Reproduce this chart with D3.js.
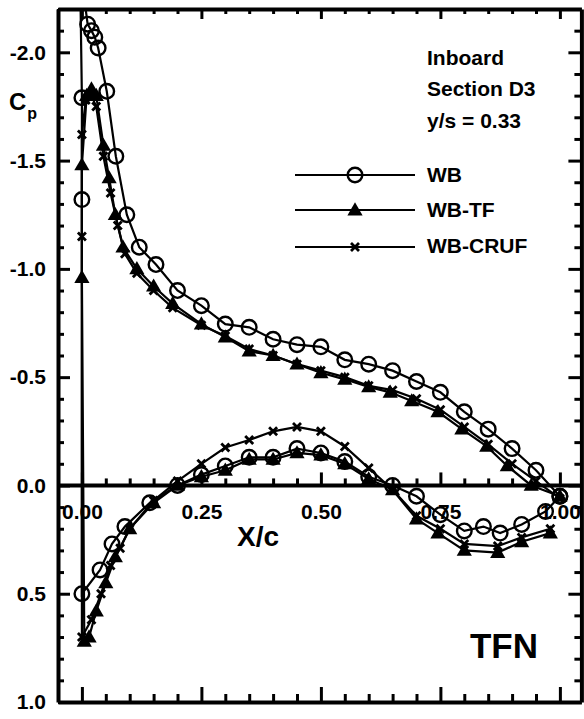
<!DOCTYPE html>
<html><head><meta charset="utf-8">
<script src="https://cdn.jsdelivr.net/npm/d3@7"></script>
<style>
body{margin:0;background:#fff;}
svg{display:block;}
text{font-family:"Liberation Sans",Arial,sans-serif;font-weight:bold;fill:#000;}
</style></head><body>
<svg id="c" width="584" height="719"></svg>
<script>
// ---- data (path order: upper TE -> LE, down the leading edge, lower LE -> TE) ----
const wbX  = [1.0,0.95,0.90,0.85,0.80,0.75,0.70,0.65,0.60,0.55,0.50,0.45,0.40,0.35,0.30,0.25,0.20,0.155,0.12,0.094,0.071,0.052,0.034,0.027,0.02,0.012,-0.004,0.0,0.0,0.0,0.038,0.063,0.09,0.142,0.20,0.25,0.30,0.35,0.40,0.45,0.50,0.55,0.60,0.65,0.70,0.75,0.80,0.84,0.875,0.92,0.97,1.0];
const wbCp = [0.05,-0.07,-0.17,-0.26,-0.34,-0.43,-0.48,-0.53,-0.56,-0.58,-0.64,-0.65,-0.675,-0.73,-0.745,-0.83,-0.90,-1.02,-1.10,-1.25,-1.52,-1.82,-2.02,-2.07,-2.10,-2.13,-2.40,-1.79,-1.32,0.50,0.39,0.27,0.19,0.08,0.0,-0.05,-0.09,-0.13,-0.13,-0.17,-0.15,-0.11,-0.04,0.0,0.05,0.135,0.21,0.19,0.22,0.18,0.12,0.05];

const tfX  = [1.0,0.94,0.89,0.847,0.795,0.745,0.69,0.645,0.60,0.55,0.50,0.45,0.40,0.35,0.30,0.25,0.19,0.15,0.115,0.086,0.07,0.057,0.045,0.03,0.02,0.01,0.0,0.0,0.005,0.015,0.03,0.05,0.07,0.10,0.15,0.20,0.25,0.30,0.35,0.40,0.45,0.50,0.55,0.60,0.65,0.70,0.745,0.80,0.87,0.92,0.98];
const tfCp = [0.05,0.0,-0.09,-0.18,-0.26,-0.34,-0.39,-0.43,-0.455,-0.49,-0.52,-0.56,-0.60,-0.62,-0.685,-0.745,-0.84,-0.92,-1.0,-1.1,-1.25,-1.42,-1.57,-1.80,-1.83,-1.80,-1.48,-0.96,0.72,0.70,0.58,0.45,0.33,0.20,0.08,0.0,-0.04,-0.07,-0.12,-0.12,-0.15,-0.14,-0.10,-0.03,0.02,0.155,0.22,0.30,0.31,0.26,0.22];

const crX  = [1.0,0.95,0.90,0.85,0.80,0.75,0.70,0.65,0.60,0.55,0.50,0.45,0.40,0.35,0.30,0.25,0.19,0.15,0.115,0.09,0.075,0.06,0.045,0.03,0.02,0.008,0.0,0.0,0.0,0.02,0.04,0.06,0.08,0.10,0.15,0.20,0.25,0.30,0.35,0.40,0.45,0.50,0.55,0.60,0.65,0.70,0.75,0.80,0.87,0.92,0.98];
const crCp = [0.06,-0.02,-0.10,-0.19,-0.27,-0.35,-0.40,-0.44,-0.46,-0.50,-0.53,-0.56,-0.60,-0.63,-0.69,-0.74,-0.82,-0.90,-0.98,-1.07,-1.20,-1.35,-1.52,-1.75,-1.80,-1.78,-1.62,-1.15,0.70,0.62,0.50,0.37,0.29,0.20,0.07,-0.02,-0.10,-0.175,-0.21,-0.25,-0.27,-0.25,-0.18,-0.08,0.02,0.14,0.20,0.27,0.28,0.24,0.20];

const seriesNames = ["WB","WB-TF","WB-CRUF"];
const xTickLabels = ["0.00","0.25","0.50","0.75","1.00"];
const yTickLabels = ["-2.0","-1.5","-1.0","-0.5","0.0","0.5","1.0"];
const infoLines = ["Inboard","Section D3","y/s = 0.33"];

// ---- layout ----
const svg = d3.select("#c");
const L = 58, R = 581.4, T = 9, B = 702;
const x = d3.scaleLinear().domain([-0.05, 1.045]).range([L, R]);
const y = d3.scaleLinear().domain([-2.2, 1.0]).range([T, B]);

const xMaj = d3.range(0, 5).map(i => i * 0.25);
const xMin = d3.range(-1, 21).map(i => i * 0.05).filter(v => Math.abs(v/0.25 - Math.round(v/0.25)) > 1e-6);
const yMaj = d3.range(0, 7).map(i => -2.0 + i * 0.5);
const yMin = d3.range(-22, 11).map(i => i / 10).filter(v => Math.abs(v/0.5 - Math.round(v/0.5)) > 1e-6);

function styleAxis(g, w) {
  g.select(".domain").attr("stroke", "#000").attr("stroke-width", w);
  g.selectAll(".tick line").attr("stroke", "#000").attr("stroke-width", 3);
}

// minor ticks first
const minorAxes = [
  [d3.axisLeft(y).tickValues(yMin).tickSizeInner(-6).tickSizeOuter(0).tickFormat(""), `translate(${L},0)`],
  [d3.axisRight(y).tickValues(yMin).tickSizeInner(-7).tickSizeOuter(0).tickFormat(""), `translate(${R},0)`],
  [d3.axisTop(x).tickValues(xMin).tickSizeInner(-5).tickSizeOuter(0).tickFormat(""), `translate(0,${T})`],
  [d3.axisBottom(x).tickValues(xMin).tickSizeInner(-8).tickSizeOuter(0).tickFormat(""), `translate(0,${B})`],
  [d3.axisBottom(x).tickValues(xMin.filter(v => v > 0 && v < 1.02)).tickSizeInner(-7).tickSizeOuter(0).tickFormat(""), `translate(0,${y(0)})`]
];
minorAxes.forEach(([ax, tr]) => {
  const g = svg.append("g").attr("transform", tr).call(ax);
  g.select(".domain").remove();
  g.selectAll(".tick line").attr("stroke", "#000").attr("stroke-width", 3);
});

// left axis with labels
const gl = svg.append("g").attr("transform", `translate(${L},0)`)
  .call(d3.axisLeft(y).tickValues(yMaj).tickSizeInner(-12).tickSizeOuter(0).tickPadding(12)
    .tickFormat((d, i) => yTickLabels[i]));
styleAxis(gl, 4);
gl.selectAll("text").attr("font-size", 21).attr("font-family", "Liberation Sans").attr("font-weight", "bold").attr("fill", "#000");

const gr = svg.append("g").attr("transform", `translate(${R},0)`)
  .call(d3.axisRight(y).tickValues(yMaj).tickSizeInner(-13).tickSizeOuter(0).tickFormat(""));
styleAxis(gr, 4);
const gt = svg.append("g").attr("transform", `translate(0,${T})`)
  .call(d3.axisTop(x).tickValues(xMaj).tickSizeInner(-10).tickSizeOuter(0).tickFormat(""));
styleAxis(gt, 4);
const gb = svg.append("g").attr("transform", `translate(0,${B})`)
  .call(d3.axisBottom(x).tickValues(xMaj).tickSizeInner(-15).tickSizeOuter(0).tickFormat(""));
styleAxis(gb, 4);

// zero line axis with labels
const gz = svg.append("g").attr("transform", `translate(0,${y(0)})`)
  .call(d3.axisBottom(x).tickValues(xMaj).tickSizeInner(-13).tickSizeOuter(0).tickPadding(19)
    .tickFormat((d, i) => xTickLabels[i]));
styleAxis(gz, 4);
gz.select(".domain").attr("d", `M${L},0H${R}`);
gz.selectAll("text").attr("font-size", 21).attr("font-family", "Liberation Sans").attr("font-weight", "bold").attr("fill", "#000");

// axis titles
svg.append("text").attr("x", 258).attr("y", 546).attr("text-anchor", "middle").attr("font-size", 28).text("X/c");
const cp = svg.append("text").attr("x", 9).attr("y", 110).attr("font-size", 24);
cp.append("tspan").text("C");
cp.append("tspan").attr("font-size", 16).attr("dy", 9).attr("dx", 1).text("p");

// annotations
const infoY = [65, 96, 128];
infoLines.forEach((t, i) => svg.append("text").attr("x", 427).attr("y", infoY[i]).attr("font-size", 21).text(t));
svg.append("text").attr("x", 538).attr("y", 658).attr("text-anchor", "end").attr("font-size", 35).text("TFN");

// ---- data ----
svg.append("clipPath").attr("id", "clip").append("rect")
  .attr("x", L).attr("y", T).attr("width", R - L).attr("height", B - T);
const plot = svg.append("g").attr("clip-path", "url(#clip)");
const line = d3.line().x(d => x(d[0])).y(d => y(d[1]));

const triSym = d3.symbol().type(d3.symbolTriangle).size(100);
function drawMarker(g, kind, px, py) {
  if (kind === 0) {
    g.append("circle").attr("cx", px).attr("cy", py).attr("r", 7.3)
      .attr("fill", "none").attr("stroke", "#000").attr("stroke-width", 2.4);
  } else if (kind === 1) {
    g.append("path").attr("d", triSym()).attr("transform", `translate(${px},${py + 1})`).attr("fill", "#000");
  } else {
    const s = 4;
    g.append("path").attr("d", `M${px - s},${py - s}L${px + s},${py + s}M${px - s},${py + s}L${px + s},${py - s}`)
      .attr("stroke", "#000").attr("stroke-width", 2.8);
  }
}

const allSeries = [[crX, crCp], [tfX, tfCp], [wbX, wbCp]];
const kinds = [2, 1, 0];
allSeries.forEach(([xs, cs], k) => {
  const pts = xs.map((v, i) => [v, cs[i]]);
  plot.append("path").attr("d", line(pts)).attr("fill", "none").attr("stroke", "#000").attr("stroke-width", 2.2);
  pts.forEach(p => drawMarker(plot, kinds[k], x(p[0]), y(p[1])));
});

// legend
const legY = [175, 210, 247], legLabY = [182, 217, 253];
seriesNames.forEach((n, i) => {
  svg.append("line").attr("x1", 295).attr("x2", 415).attr("y1", legY[i]).attr("y2", legY[i])
    .attr("stroke", "#000").attr("stroke-width", 2);
  drawMarker(svg, i, 355, legY[i]);
  svg.append("text").attr("x", 427).attr("y", legLabY[i]).attr("font-size", 21).text(n);
});
</script></body></html>
